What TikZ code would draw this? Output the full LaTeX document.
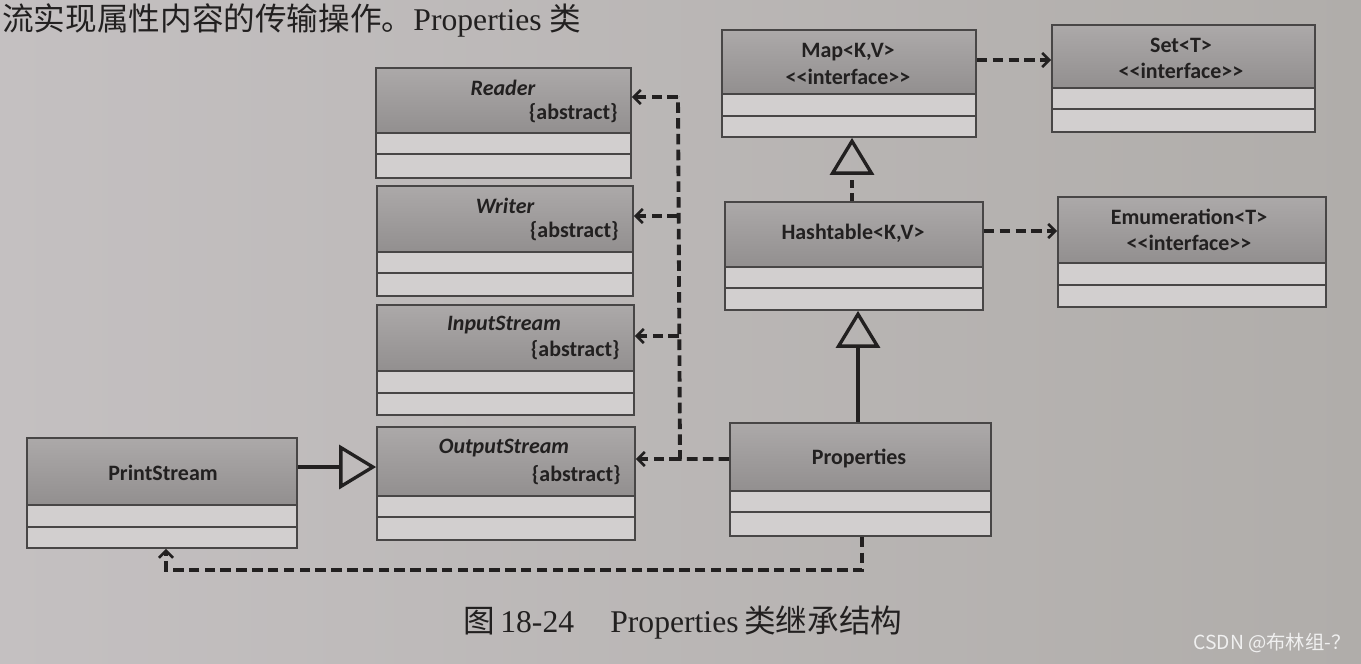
\documentclass[tikz,border=0pt]{standalone}
\usepackage{fontspec}
\setmainfont{Liberation Serif}
\setsansfont{Carlito}
\newfontfamily\cjk{Noto Sans CJK SC}
\usetikzlibrary{arrows.meta,fit}
\definecolor{bgl}{RGB}{196,192,193}
\definecolor{bgr}{RGB}{176,173,170}
\definecolor{hdtop}{RGB}{172,169,169}
\definecolor{hdbot}{RGB}{146,143,143}
\definecolor{rowfill}{RGB}{210,207,207}
\definecolor{boxcol}{RGB}{72,70,70}
\definecolor{ink}{RGB}{34,32,32}
\definecolor{wm}{RGB}{240,240,240}
\newcommand\umlclass[7]{%
  \fill[rowfill] (#2,#3) rectangle (#4,#5);
  \shade[top color=hdtop, bottom color=hdbot] (#2,#3) rectangle (#4,#6);
  \draw[boxline] (#2,#6) -- (#4,#6) (#2,#7) -- (#4,#7);
  \node[boxnode, fit={(#2,#3) (#4,#5)}] (#1) {};
}
\newcommand\iface{<\kern0pt<interface>\kern0pt>}
\tikzset{
  boxline/.style={draw=boxcol, line width=0.8pt},
  boxnode/.style={rectangle, draw=boxcol, line width=1pt, inner sep=0pt},
  lbl/.style={font=\sffamily\bfseries\fontsize{12.5}{14}\selectfont, text=ink, inner sep=0pt},
  ilbl/.style={font=\sffamily\bfseries\itshape\fontsize{12.5}{14}\selectfont, text=ink, inner sep=0pt},
  captxt/.style={font=\fontsize{18}{20}\selectfont, text=ink, inner sep=0pt, anchor=base west},
  dline/.style={draw=ink, line width=2.2pt, dash pattern=on 6pt off 3pt},
  dep/.style={dline, -{Straight Barb[length=4pt, width=8pt, line width=1.5pt]}},
  real/.style={draw=ink, line width=2.2pt, dash pattern=on 4.5pt off 3pt, -{Triangle[open, length=21pt, width=25pt, line width=1.9pt]}},
  gen/.style={draw=ink, line width=2.2pt, -{Triangle[open, length=21pt, width=25pt, line width=1.9pt]}},
}
\begin{document}
\begin{tikzpicture}[x=0.02cm, y=-0.02cm]
\useasboundingbox (0,0) rectangle (1361,663);
\clip (0,0) rectangle (1361,663);
\shade[left color=bgl, right color=bgr] (0,0) rectangle (1361,663);

% top line of page text
\node[captxt, font=\fontsize{18}{20}\selectfont] (t1) at (2,30) {{\cjk 流实现属性内容的传输操作。}Properties {\cjk 类}};

% classes
\umlclass{reader}{376}{68}{631}{178}{133}{154}
\umlclass{writer}{377}{186}{633}{296}{252}{273}
\umlclass{input}{377}{305}{634}{415}{371}{393}
\umlclass{output}{377}{427}{635}{540}{496}{517}
\umlclass{print}{27}{438}{297}{548}{505}{527}
\umlclass{map}{722}{30}{976}{137}{94}{116}
\umlclass{set}{1052}{25}{1315}{132}{88}{109}
\umlclass{hash}{725}{202}{983}{310}{267}{288}
\umlclass{enum}{1058}{197}{1326}{307}{263}{285}
\umlclass{props}{730}{423}{991}{536}{491}{512}

% labels
\node[ilbl] (readerT) at (503,88) {Reader};
\node[lbl, anchor=east] (readerA) at (618,113) {\{abstract\}};
\node[ilbl] (writerT) at (505,206) {Writer};
\node[lbl, anchor=east] (writerA) at (619,231) {\{abstract\}};
\node[ilbl] (inputT) at (504,325) {InputStream};
\node[lbl, anchor=east] (inputA) at (620,350) {\{abstract\}};
\node[ilbl] (outputT) at (504,448) {OutputStream};
\node[lbl, anchor=east] (outputA) at (621,475) {\{abstract\}};
\node[lbl] (printT) at (163,473) {PrintStream};
\node[lbl] (mapT) at (848,52) {Map<K,V>};
\node[lbl] (mapS) at (848,77) {\iface};
\node[lbl] (setT) at (1181,45) {Set<T>};
\node[lbl] (setS) at (1181,71) {\iface};
\node[lbl] (hashT) at (853,233) {Hashtable<K,V>};
\node[lbl] (enumT) at (1189,217) {Emumeration<T>};
\node[lbl] (enumS) at (1189,243) {\iface};
\node[lbl] (propsT) at (859,458) {Properties};

% connectors
\coordinate (ym) at (0,60);
\coordinate (yh) at (0,231);
\draw[dep] (map.east |- ym) -- (set.west |- ym);
\draw[dep] (hash.east |- yh) -- (enum.west |- yh);
\coordinate (xg1) at (852,0);
\draw[real] (hash.north -| xg1) -- (map.south -| xg1);
\coordinate (xg2) at (858,0);
\draw[gen] (props.north -| xg2) -- (hash.south -| xg2);
\coordinate (yg3) at (0,467);
\draw[gen] (print.east |- yg3) -- (output.west |- yg3);

\coordinate (jr) at (678,97);
\coordinate (jw) at (678,216);
\coordinate (ji) at (679,336);
\coordinate (jo) at (680,459);
\draw[dline] (props.west |- jo) -- (jo) -- (jr);
\draw[dep] (jr) -- (reader.east |- jr);
\draw[dep] (jw) -- (writer.east |- jw);
\draw[dep] (ji) -- (input.east |- ji);
\draw[dep] (jo) -- (output.east |- jo);

\coordinate (xb1) at (862,0);
\coordinate (yb) at (0,570);
\coordinate (xb2) at (166,0);
\draw[dep] (props.south -| xb1) -- (xb1 |- yb) -- (xb2 |- yb) -- (print.south -| xb2);

% caption
\node[captxt] (c1) at (463,632) {\cjk 图};
\node[captxt] (c2) at (500,632) {18-24};
\node[captxt] (c3) at (610,632) {Properties};
\node[captxt] (c4) at (744,632) {\cjk 类继承结构};

% watermark
\node[text=wm, inner sep=0pt, font=\cjk\fontsize{11}{12}\selectfont] (wmk) at (1272,643) {CSDN @布林组-？};
\end{tikzpicture}
\end{document}
